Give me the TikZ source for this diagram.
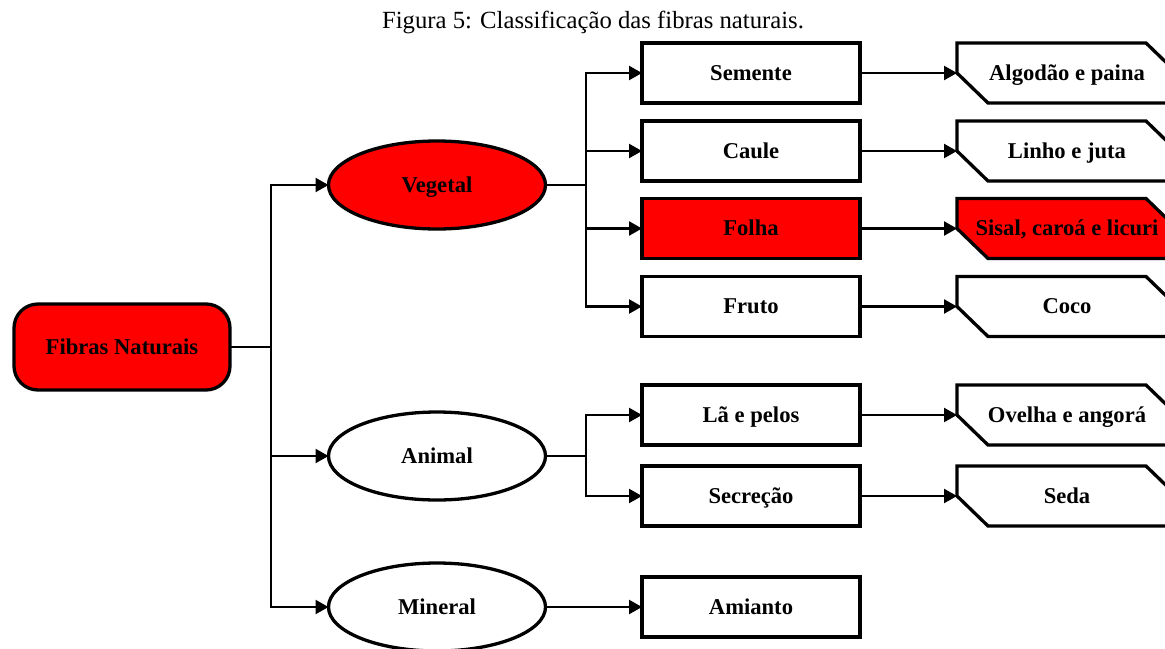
\documentclass[tikz,border=0pt]{standalone}
\usepackage{fontspec}
\setmainfont{Liberation Serif}
\usetikzlibrary{arrows.meta,shapes.geometric}

% leaf shape: rectangle with the south-west and north-east corners cut off
% #1 name, #2 x, #3 y, #4 fill, #5 text
\newcommand\leafshape[5]{%
  \draw[boxline, fill=#4] (#2-110,#3-30) -- (#2+79,#3-30) -- (#2+110,#3)
    -- (#2+110,#3+30) -- (#2-79,#3+30) -- (#2-110,#3) -- cycle;
  \node[leaf] (#1) at (#2,#3) {#5};}

\begin{document}
\begin{tikzpicture}[x=0.5pt,y=-0.5pt,
  every node/.style={font=\fontsize{11.3}{13}\selectfont\bfseries,
    inner sep=0pt, outer sep=0pt, text=black,
    text height=7.4pt, text depth=0pt},
  boxline/.style={line width=1.65pt},
  catbox/.style={boxline, draw, fill=white, rectangle,
    minimum width=109pt, minimum height=30pt},
  kind/.style={boxline, draw, fill=white, ellipse,
    minimum width=108.5pt, minimum height=44pt},
  rootbox/.style={boxline, draw, rectangle, rounded corners=12pt,
    minimum width=108pt, minimum height=43pt},
  leaf/.style={rectangle, minimum width=110pt, minimum height=30pt},
  hot/.style={fill=red},
  link/.style={line width=1.15pt},
  arr/.style={link, -{Triangle[length=6.5pt,width=7pt]}},
]
\useasboundingbox (0,0) rectangle (1165,648);
\clip (0,0) rectangle (1165,648);

\node[font=\fontsize{12.35}{14}\selectfont, text height=, text depth=] (title) at (593,22)
  {Figura 5: Classificação das fibras naturais.};

% root
\node[rootbox, hot] (fib) at (122,347) {Fibras Naturais};

% kinds of fibre
\node[kind, hot] (veg) at (437,185) {Vegetal};
\node[kind] (ani) at (437,456) {Animal};
\node[kind] (min) at (437,607) {Mineral};

% plant parts and other sources
\node[catbox] (sem) at (751,73) {Semente};
\node[catbox] (cau) at (751,151) {Caule};
\node[catbox, hot] (fol) at (751,228.5) {Folha};
\node[catbox] (fru) at (751,306.5) {Fruto};
\node[catbox] (lae) at (751,415) {Lã e pelos};
\node[catbox] (sec) at (751,496) {Secreção};
\node[catbox] (ami) at (751,607) {Amianto};

% examples
\leafshape{alg}{1067}{73}{white}{Algodão e paina}
\leafshape{lin}{1067}{151}{white}{Linho e juta}
\leafshape{sis}{1067}{228.5}{red}{Sisal, caroá e licuri}
\leafshape{coc}{1067}{306.5}{white}{Coco}
\leafshape{ove}{1067}{415}{white}{Ovelha e angorá}
\leafshape{sed}{1067}{496}{white}{Seda}

% connectors
\coordinate (trunk) at (271,347);
\coordinate (vbus) at (586,185);
\coordinate (abus) at (586,456);

\draw[link] (fib.east) -- (trunk);
\draw[arr] (trunk) |- (veg.west);
\draw[arr] (trunk) |- (ani.west);
\draw[arr] (trunk) |- (min.west);

\draw[link] (veg.east) -- (vbus);
\foreach \t in {sem,cau,fol,fru} \draw[arr] (vbus) |- (\t.west);

\draw[link] (ani.east) -- (abus);
\foreach \t in {lae,sec} \draw[arr] (abus) |- (\t.west);

\draw[arr] (min.east) -- (ami.west);

\draw[arr] (sem.east) -- (alg.west);
\draw[arr] (cau.east) -- (lin.west);
\draw[arr] (fol.east) -- (sis.west);
\draw[arr] (fru.east) -- (coc.west);
\draw[arr] (lae.east) -- (ove.west);
\draw[arr] (sec.east) -- (sed.west);
\end{tikzpicture}
\end{document}
